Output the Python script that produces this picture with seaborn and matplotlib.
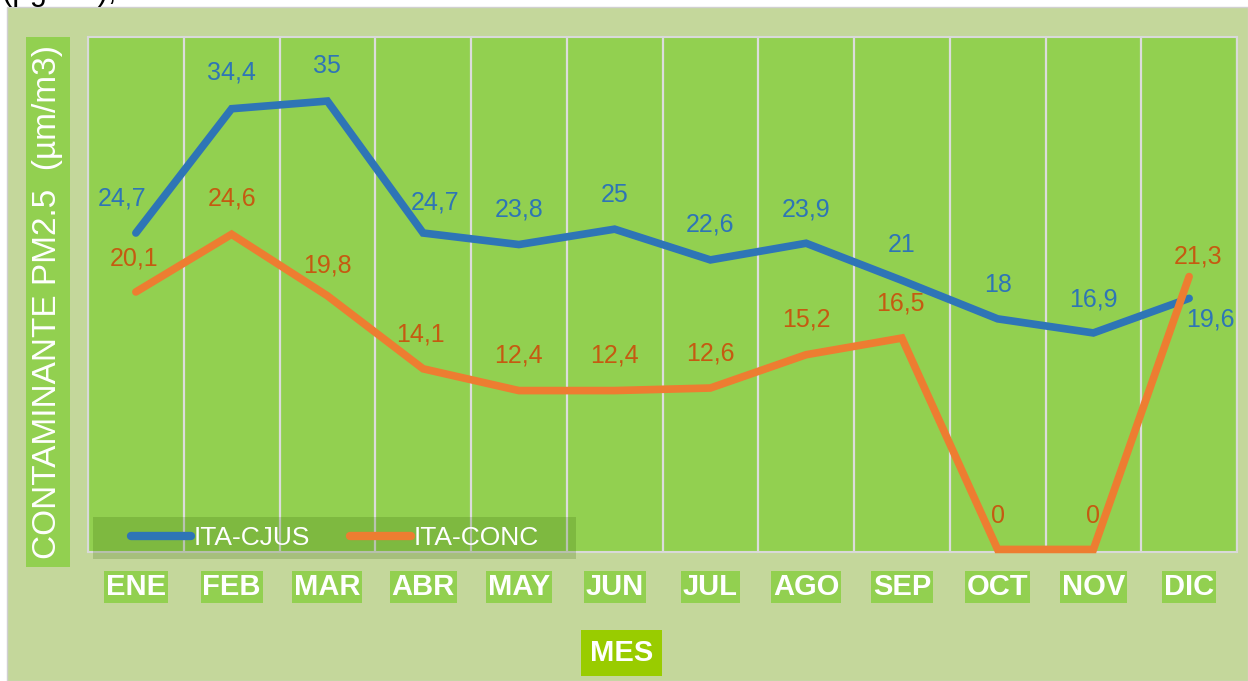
import matplotlib
matplotlib.use("Agg")
import matplotlib.pyplot as plt
from matplotlib.patches import Rectangle
from matplotlib.lines import Line2D
import numpy as np
import pandas as pd
import seaborn as sns

# Monthly PM2.5 readings for the two stations
meses = ["ENE", "FEB", "MAR", "ABR", "MAY", "JUN", "JUL", "AGO", "SEP", "OCT", "NOV", "DIC"]
ita_cjus = [24.7, 34.4, 35, 24.7, 23.8, 25, 22.6, 23.9, 21, 18, 16.9, 19.6]
ita_conc = [20.1, 24.6, 19.8, 14.1, 12.4, 12.4, 12.6, 15.2, 16.5, 0, 0, 21.3]
series = ["ITA-CJUS", "ITA-CONC"]

colors = {"ITA-CJUS": "#2e75b6", "ITA-CONC": "#ed7d31"}
label_colors = {"ITA-CJUS": "#2e75b6", "ITA-CONC": "#c55a11"}

# value-label offsets (pixels, x right / y up) so labels avoid the lines
off_cjus = [(-14, 35), (0, 36), (0, 35), (12, 31), (0, 35), (0, 34),
            (0, 35), (0, 34), (0, 35), (0, 34), (0, 33), (21, -21)]
off_conc = [(-2, 33), (0, 36), (0, 30), (-3, 34), (0, 35), (0, 35),
            (0, 35), (0, 35), (-2, 35), (0, 33), (0, 33), (9, 20)]

W, H = 1248, 681
sns.set_theme(style="white")
plt.rcParams["font.family"] = ["Liberation Sans", "DejaVu Sans"]


def fx(px):
    return px / W


def fy(py):
    return 1 - py / H


fig = plt.figure(figsize=(W / 100, H / 100), dpi=100, facecolor="white")

# chart-area background
fig.patches.append(Rectangle((fx(7), 0), 1 - fx(7), fy(7), transform=fig.transFigure,
                             facecolor="#c4d79b", edgecolor="#d0d0d0", lw=1, zorder=-5))

ax = fig.add_axes([fx(88), fy(552), fx(1237) - fx(88), fy(37) - fy(552)])
ax.set_facecolor("#92d050")

df = pd.DataFrame({
    "MES": meses * 2,
    "valor": ita_cjus + ita_conc,
    "serie": [series[0]] * len(meses) + [series[1]] * len(meses),
})
sns.lineplot(data=df, x="MES", y="valor", hue="serie", hue_order=series,
             palette=colors, linewidth=5.5, sort=False, ax=ax, legend=False,
             solid_capstyle="round", solid_joinstyle="miter")
for ln in ax.lines:
    ln.set_clip_on(False)
    ln.set_zorder(3)

ax.set_xlim(-0.5, len(meses) - 0.5)
ax.set_ylim(-0.2, 40)
ax.set_yticks([])
ax.set_xticks(range(len(meses)))
ax.set_xticklabels(meses)
ax.set_xticks(np.arange(-0.5, len(meses), 1), minor=True)
ax.grid(False)
ax.grid(which="minor", axis="x", color="#dcdcdc", lw=1.6)
ax.tick_params(axis="x", which="both", length=0, pad=15)
for lbl in ax.get_xticklabels():
    lbl.set_fontsize(21)
    lbl.set_fontweight("bold")
    lbl.set_color("white")
    lbl.set_bbox(dict(boxstyle="square,pad=0.06", facecolor="#92d050", edgecolor="none"))
ax.set_xlabel("")
ax.set_ylabel("")
for s in ax.spines.values():
    s.set_color("#d9d9d9")
    s.set_linewidth(1.5)

# value labels
for name, vals, offs in [(series[0], ita_cjus, off_cjus), (series[1], ita_conc, off_conc)]:
    for i, (v, (dx, dy)) in enumerate(zip(vals, offs)):
        ax.annotate(f"{v:g}".replace(".", ","), xy=(i, v), xytext=(dx, dy),
                    textcoords="offset pixels", ha="center", va="center",
                    fontsize=18, color=label_colors[name], zorder=1)

# y-axis title on its own green panel
fig.patches.append(Rectangle((fx(26), fy(567)), fx(70) - fx(26), fy(37) - fy(567),
                             transform=fig.transFigure, facecolor="#92d050",
                             edgecolor="none", zorder=1))
fig.text(fx(48), fy(302), "CONTAMINANTE PM2.5  (µm/m3)", rotation=90,
         ha="center", va="center", color="white", fontsize=24, zorder=3)

# x-axis title
fig.text(fx(621.5), fy(653), "MES", ha="center", va="center", color="white",
         fontsize=21, fontweight="bold", zorder=3,
         bbox=dict(boxstyle="square,pad=0.3", facecolor="#99cc00", edgecolor="none"))

# legend panel
fig.patches.append(Rectangle((fx(93), fy(559)), fx(576) - fx(93), fy(517) - fy(559),
                             transform=fig.transFigure, facecolor="#2f5f00",
                             alpha=0.2, edgecolor="none", zorder=2))
handles = [Line2D([0], [0], color=colors[s], lw=6, solid_capstyle="round") for s in series]
fig.legend(handles, series, loc="center", bbox_to_anchor=(fx(334.5), fy(538)),
           frameon=False, fontsize=19, labelcolor="white", ncol=2,
           handlelength=2.3, handletextpad=0.1, columnspacing=1.5)

# caption line running above the chart
fig.text(fx(2), fy(0), "(µg/m3), en cada mes del año", ha="left", va="baseline",
         fontsize=22, color="black", zorder=-1)

fig.savefig("out.png", dpi=100, facecolor="white")
